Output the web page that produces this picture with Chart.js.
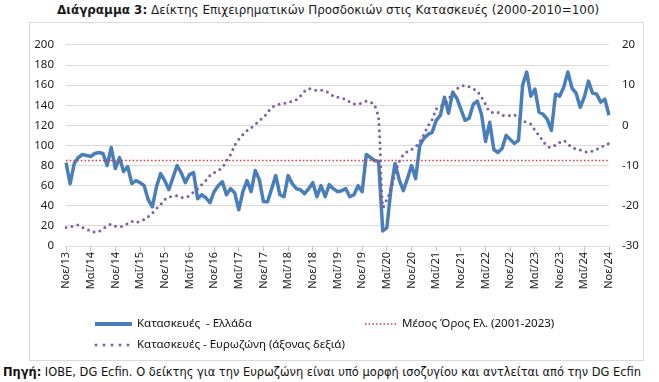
<!DOCTYPE html>
<html>
<head>
<meta charset="utf-8">
<script src="https://cdn.jsdelivr.net/npm/chart.js@4.4.1/dist/chart.umd.min.js"></script>
<style>
  html,body{margin:0;padding:0;background:#fff;}
  body{width:659px;height:382px;position:relative;overflow:hidden;}
  #title{position:absolute;top:2px;left:57px;white-space:nowrap;font-family:"DejaVu Sans",sans-serif;font-size:12px;color:#1a1a1a;line-height:16px;}
  #source{position:absolute;top:364px;left:3px;white-space:nowrap;font-family:"DejaVu Sans",sans-serif;font-size:11px;color:#111;line-height:16px;}
  #box{position:absolute;left:29px;top:22px;width:613px;height:337px;border:1px solid #d9d9d9;}
  #wrap{position:absolute;left:29px;top:25px;width:614px;height:333px;}
</style>
</head>
<body>
<div id="title"><b>Διάγραμμα 3:</b> Δείκτης Επιχειρηματικών Προσδοκιών στις Κατασκευές (2000-2010=100)</div>
<div id="box"></div>
<div id="wrap"><canvas id="c" width="614" height="333"></canvas></div>
<div id="source"><b>Πηγή:</b> ΙΟΒΕ, DG Ecfin. Ο δείκτης για την Ευρωζώνη είναι υπό μορφή ισοζυγίου και αντλείται από την DG Ecfin</div>
<script>
// ---- categories: monthly, Nov 2013 .. Nov 2024
const monthNames = ["Ιαν","Φεβ","Μαρ","Απρ","Μαΐ","Ιουν","Ιουλ","Αυγ","Σεπ","Οκτ","Νοε","Δεκ"];
const categories = [];
for (let y = 2013; y <= 2024; y++) {
  for (let m = 0; m < 12; m++) {
    if (y === 2013 && m < 10) continue;
    if (y === 2024 && m > 10) continue;
    categories.push(monthNames[m] + "/" + String(y).slice(2));
  }
}

// ---- Greece construction confidence (left axis, 2000-2010=100)
const greece = [
  83,62,82,88,91,90,89,92,93,92,80,98,
  77,88,74,79,62,65,63,60,46,39,59,72,
  65,56,68,80,73,63,71,73,47,51,48,43,
  54,60,64,51,57,53,36,54,65,54,75,66,
  44,44,57,70,51,49,70,62,57,56,52,57,
  63,49,60,49,61,57,54,55,57,49,51,60,
  54,91,88,85,84,15,18,57,82,66,55,67,
  80,67,100,107,111,113,125,130,148,132,153,147,
  136,125,127,141,144,131,104,123,96,93,97,110,
  106,102,105,160,173,149,156,133,131,126,115,151,
  149,158,173,157,152,138,148,164,152,151,143,146,
  130
];

// ---- Eurozone construction confidence (right axis, balance)
const eurozone = [
  -25.4,-25.3,-25.0,-24.8,-25.4,-25.7,-26.4,-26.5,-26.4,-25.7,-25.1,-24.6,
  -25.1,-25.2,-25.0,-24.4,-23.9,-24.2,-23.8,-23.4,-22.7,-21.8,-20.7,-19.7,
  -18.5,-17.8,-17.7,-17.5,-17.9,-17.9,-17.5,-16.6,-15.8,-14.7,-13.7,-12.5,
  -11.8,-11.2,-10.5,-8.8,-7.3,-5.0,-3.5,-2.3,-1.3,-0.6,0.2,1.2,
  1.9,3.2,4.4,5.0,5.3,5.4,5.8,5.9,6.4,7.3,8.5,9.1,
  8.8,8.7,8.7,8.6,8.0,7.3,7.0,6.7,6.5,5.8,5.3,5.3,
  5.6,6.0,5.8,5.0,1.5,-20.3,-18.4,-16.0,-12.0,-9.0,-7.3,-6.5,
  -6.0,-5.3,-4.0,-2.3,-0.2,1.4,4.0,4.8,5.2,6.5,8.0,9.0,
  9.7,9.9,9.6,9.1,8.4,7.0,5.2,3.4,3.2,3.2,2.5,2.4,
  2.5,2.6,1.7,1.0,0.8,0.3,-1.2,-2.5,-4.0,-5.2,-5.5,-4.9,
  -4.3,-3.8,-4.6,-5.5,-5.9,-6.1,-6.5,-6.7,-6.4,-6.0,-5.5,-4.9,
  -4.5
];

// ---- Greek average 2001-2023 (reference line)
const greeceMean = 85;

const leftTicks = {min: 0, max: 200, step: 20};
const rightTicks = {min: -30, max: 20, step: 10};
const tickEvery = 6;

const seriesNames = ["Κατασκευές  - Ελλάδα", "Μέσος Όρος Ελ. (2001-2023)", "Κατασκευές - Ευρωζώνη (άξονας δεξιά)"];

// ---------------------------------------------------------------
const BLUE = "#4A7EBB", RED = "#E0302F", PURPLE = "#7D5FA8";
const FONT = '"Noto Sans", sans-serif';

const legendPlugin = {
  id: "customLegend",
  afterDraw(chart) {
    const ctx = chart.ctx;
    ctx.save();
    ctx.font = "11.5px " + FONT;
    ctx.fillStyle = "#111";
    ctx.textBaseline = "middle";
    ctx.textAlign = "left";
    const ds = chart.data.datasets;
    // row 1: Greece
    let y1 = 299, y2 = 320;
    ctx.strokeStyle = ds[0].borderColor; ctx.lineWidth = 4; ctx.lineCap = "butt";
    ctx.beginPath(); ctx.moveTo(66, y1); ctx.lineTo(103, y1); ctx.stroke();
    ctx.fillText(ds[0].label, 108, y1);
    // mean
    ctx.strokeStyle = ds[1].borderColor; ctx.lineWidth = 1.5; ctx.setLineDash([1.5, 2.2]);
    ctx.beginPath(); ctx.moveTo(336, y1); ctx.lineTo(369, y1); ctx.stroke();
    ctx.setLineDash([]);
    ctx.fillText(ds[1].label, 373, y1);
    // eurozone
    ctx.strokeStyle = ds[2].borderColor; ctx.lineWidth = 3; ctx.lineCap = "round"; ctx.setLineDash([0, 8]);
    ctx.beginPath(); ctx.moveTo(67, y2); ctx.lineTo(100, y2); ctx.stroke();
    ctx.setLineDash([]);
    ctx.fillText(ds[2].label, 108, y2);
    ctx.restore();
  }
};

new Chart(document.getElementById("c"), {
  type: "line",
  data: {
    labels: categories,
    datasets: [
      {
        label: seriesNames[0], data: greece, yAxisID: "y",
        borderColor: BLUE, borderWidth: 3.5, pointRadius: 0, tension: 0,
        borderJoinStyle: "round", order: 2
      },
      {
        label: seriesNames[1],
        data: [{x: categories[0], y: greeceMean}, {x: categories[categories.length - 1], y: greeceMean}],
        yAxisID: "y", borderColor: RED, borderWidth: 1.5, borderDash: [1.5, 2.2],
        pointRadius: 0, order: 1
      },
      {
        label: seriesNames[2], data: eurozone, yAxisID: "y1",
        borderColor: PURPLE, borderWidth: 3, borderDash: [0, 6], borderCapStyle: "round",
        pointRadius: 0, tension: 0.3, order: 0
      }
    ]
  },
  options: {
    responsive: false, animation: false, devicePixelRatio: 1,
    layout: {padding: {top: 14, left: 0, right: 0, bottom: 62}},
    plugins: {legend: {display: false}, tooltip: {enabled: false}},
    scales: {
      x: {
        type: "category", offset: false,
        grid: {display: true, drawOnChartArea: false, drawTicks: true, tickLength: 5,
               tickColor: (c) => (c.index % tickEvery === 0 ? "#bfbfbf" : "rgba(0,0,0,0)")},
        border: {display: true, color: "#d9d9d9"},
        ticks: {
          autoSkip: false, maxRotation: 90, minRotation: 90, padding: 1,
          font: {family: FONT, size: 11}, color: "#1a1a1a",
          callback: function (v, i) { return i % tickEvery === 0 ? categories[i] : ""; }
        },
        afterFit: (s) => { s.height = 50; }
      },
      y: {
        position: "left", min: leftTicks.min, max: leftTicks.max,
        grid: {color: "#d9d9d9", drawTicks: false},
        border: {display: false},
        ticks: {stepSize: leftTicks.step, padding: 12, font: {family: FONT, size: 11.5}, color: "#1a1a1a"},
        afterFit: (s) => { s.width = 37; }
      },
      y1: {
        position: "right", min: rightTicks.min, max: rightTicks.max,
        grid: {drawOnChartArea: false, drawTicks: false},
        border: {display: false},
        ticks: {stepSize: rightTicks.step, padding: 13, font: {family: FONT, size: 11.5}, color: "#1a1a1a"},
        afterFit: (s) => { s.width = 34; }
      }
    }
  },
  plugins: [legendPlugin]
});

// fit HTML title & source text to target widths
function fitWidth(id, target) {
  const el = document.getElementById(id);
  let fs = parseFloat(getComputedStyle(el).fontSize);
  for (let k = 0; k < 3; k++) {
    const w = el.getBoundingClientRect().width;
    fs = fs * target / w;
    el.style.fontSize = fs + "px";
  }
}
fitWidth("title", 543);
fitWidth("source", 638);
</script>
</body>
</html>
